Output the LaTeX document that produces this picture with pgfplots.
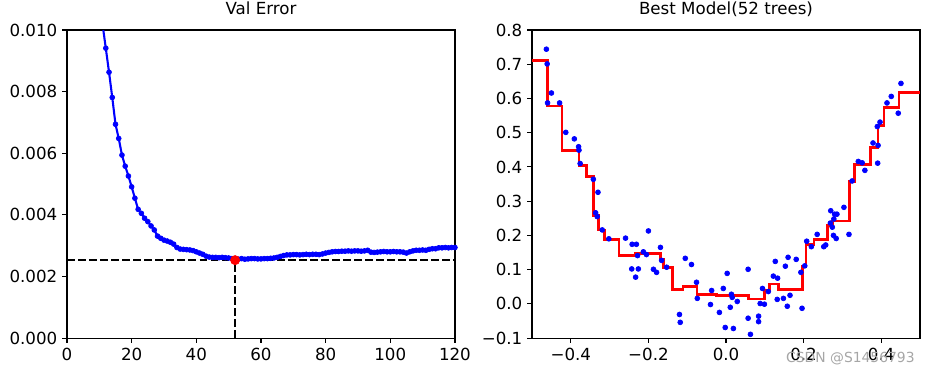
\documentclass[border=0pt]{standalone}
\usepackage{fontspec}
\setmainfont{DejaVu Sans}
\usepackage{pgfplots}
\usepackage{pgfplotstable}
\pgfplotsset{compat=1.18}

\pgfplotstableread{
n err
11 0.01018
12 0.00941
13 0.00863
14 0.00781
15 0.00694
16 0.00648
17 0.00594
18 0.00558
19 0.00526
20 0.00491
21 0.00454
22 0.00418
23 0.00405
24 0.00389
25 0.00378
26 0.00364
27 0.00351
28 0.00331
29 0.00324
30 0.00318
31 0.00315
32 0.00311
33 0.00305
34 0.00294
35 0.00289
36 0.00288
37 0.00287
38 0.00286
39 0.00284
40 0.00280
41 0.00276
42 0.00272
43 0.00266
44 0.00263
45 0.00262
46 0.00262
47 0.00261
48 0.00262
49 0.00261
50 0.00260
51 0.00258
52 0.00253
53 0.00256
54 0.00258
55 0.00256
56 0.00257
57 0.00258
58 0.00258
59 0.00257
60 0.00257
61 0.00258
62 0.00258
63 0.00259
64 0.00260
65 0.00262
66 0.00265
67 0.00268
68 0.00270
69 0.00270
70 0.00271
71 0.00271
72 0.00270
73 0.00271
74 0.00272
75 0.00271
76 0.00272
77 0.00272
78 0.00271
79 0.00273
80 0.00276
81 0.00278
82 0.00280
83 0.00281
84 0.00281
85 0.00282
86 0.00282
87 0.00283
88 0.00282
89 0.00283
90 0.00283
91 0.00282
92 0.00283
93 0.00285
94 0.00279
95 0.00278
96 0.00279
97 0.00280
98 0.00281
99 0.00280
100 0.00280
101 0.00281
102 0.00280
103 0.00280
104 0.00279
105 0.00276
106 0.00280
107 0.00283
108 0.00285
109 0.00285
110 0.00286
111 0.00285
112 0.00288
113 0.00290
114 0.00290
115 0.00293
116 0.00293
117 0.00294
118 0.00293
119 0.00294
120 0.00294
}\errtable

\pgfplotstableread{
x y
-0.463 0.744
-0.461 0.701
-0.460 0.587
-0.450 0.616
-0.429 0.587
-0.413 0.501
-0.391 0.482
-0.380 0.459
-0.379 0.449
-0.376 0.410
-0.342 0.364
-0.330 0.326
-0.336 0.266
-0.332 0.255
-0.319 0.216
-0.302 0.190
-0.259 0.192
-0.242 0.174
-0.231 0.174
-0.228 0.141
-0.243 0.102
-0.233 0.078
-0.226 0.102
-0.213 0.152
-0.205 0.144
-0.200 0.213
-0.187 0.101
-0.179 0.092
-0.169 0.165
-0.166 0.127
-0.153 0.107
-0.120 -0.031
-0.118 -0.054
-0.105 0.133
-0.089 0.115
-0.076 0.063
-0.074 0.016
-0.040 -0.002
-0.037 0.039
-0.017 -0.025
-0.007 0.045
-0.002 -0.069
0.003 0.089
0.011 -0.010
0.014 0.028
0.016 0.019
0.019 -0.072
0.029 0.007
0.057 0.101
0.057 -0.042
0.063 -0.089
0.084 -0.036
0.084 -0.052
0.088 0.001
0.094 0.045
0.099 -0.001
0.109 0.036
0.122 0.081
0.127 0.124
0.132 0.013
0.133 0.075
0.148 0.016
0.153 0.110
0.158 -0.007
0.160 0.136
0.165 0.025
0.181 0.130
0.193 0.092
0.196 -0.013
0.203 0.111
0.208 0.183
0.220 0.167
0.235 0.203
0.252 0.167
0.257 0.172
0.269 0.236
0.270 0.272
0.274 0.224
0.277 0.200
0.278 0.248
0.280 0.262
0.284 0.191
0.286 0.262
0.304 0.282
0.317 0.203
0.325 0.359
0.341 0.416
0.351 0.412
0.358 0.390
0.379 0.470
0.390 0.518
0.391 0.411
0.392 0.463
0.397 0.531
0.415 0.587
0.426 0.606
0.444 0.557
0.451 0.644
}\scattertable

\pgfplotstableread{
x y
-0.500 0.712
-0.461 0.578
-0.423 0.449
-0.379 0.405
-0.359 0.371
-0.342 0.257
-0.328 0.216
-0.314 0.187
-0.276 0.141
-0.234 0.147
-0.168 0.129
-0.161 0.107
-0.138 0.042
-0.111 0.050
-0.075 0.028
-0.024 0.024
0.057 0.014
0.100 0.038
0.113 0.058
0.135 0.042
0.197 0.109
0.206 0.174
0.227 0.189
0.261 0.230
0.275 0.242
0.319 0.357
0.332 0.406
0.373 0.457
0.392 0.522
0.407 0.574
0.446 0.617
0.500 0.617
}\steptable

\pgfplotsset{
  mpl/.style={
    anchor=south west,
    scale only axis, width=279.3pt, height=221.8pt,
    tick align=outside, xtick pos=bottom, ytick pos=left,
    major tick length=3.5pt,
    every tick/.style={black, line width=0.8pt},
    axis line style={line width=0.8pt},
    ticklabel style={font=\fontsize{12}{14}\selectfont},
    /pgf/number format/assume math mode=true,
    title style={font=\fontsize{12}{14}\selectfont, anchor=base, at={(0.5,1)}, yshift=5pt},
    clip=true,
  }
}

\begin{document}
\begin{tikzpicture}
\path[use as bounding box] (-48.24pt,-25.2pt) rectangle (620.6pt,243.4pt);
\begin{axis}[mpl, at={(0pt,0pt)},
  xmin=0, xmax=120, ymin=0, ymax=0.010,
  xtick={0,20,40,60,80,100,120},
  ytick={0,0.002,0.004,0.006,0.008,0.010},
  yticklabels={0.000,0.002,0.004,0.006,0.008,0.010},
  scaled y ticks=false,
  title={Val Error}]
\addplot[blue, line width=1.5pt, mark=*, mark size=1.75pt, mark options={solid, line width=0.5pt}] table[x=n, y=err]{\errtable};
\addplot[black, line width=1.5pt, dash pattern=on 5.55pt off 2.4pt] coordinates {(52,0) (52,0.00253)};
\addplot[black, line width=1.5pt, dash pattern=on 5.55pt off 2.4pt] coordinates {(0,0.00253) (120,0.00253)};
\addplot[red, only marks, mark=*, mark size=3.3pt, mark options={line width=0.5pt}] coordinates {(52,0.00253)};
\end{axis}

\begin{axis}[mpl, at={(334.8pt,0pt)}, name=right,
  xmin=-0.5, xmax=0.5, ymin=-0.1, ymax=0.8,
  xtick={-0.4,-0.2,0,0.2,0.4},
  xticklabels={−0.4,−0.2,0.0,0.2,0.4},
  ytick={-0.1,0,0.1,0.2,0.3,0.4,0.5,0.6,0.7,0.8},
  yticklabels={−0.1,0.0,0.1,0.2,0.3,0.4,0.5,0.6,0.7,0.8},
  title={Best Model(52 trees)}]
\addplot[blue, only marks, mark=*, mark size=1.75pt, mark options={line width=0.5pt}] table[x=x, y=y]{\scattertable};
\addplot[red, line width=2pt, const plot mark left, line join=miter] table[x=x, y=y]{\steptable};
\end{axis}
\node[anchor=east, text=black!35, font=\fontsize{10}{12}\selectfont, inner sep=0pt] at ([xshift=-3.6pt, yshift=-14.4pt]right.south east) {CSDN @S1456793};
\end{tikzpicture}
\end{document}
